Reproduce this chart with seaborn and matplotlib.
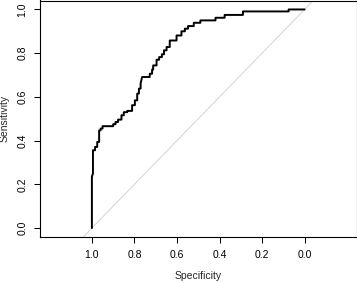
import matplotlib
matplotlib.use("Agg")
import matplotlib.pyplot as plt
import seaborn as sns
import pandas as pd

# ROC curve vertices (specificity, sensitivity)
specificity = [1.000, 1.000, 0.995, 0.995, 0.985, 0.985, 0.975, 0.975, 0.966, 0.966,
               0.959, 0.959, 0.950, 0.950, 0.900, 0.900, 0.889, 0.889, 0.877, 0.877,
               0.861, 0.861, 0.850, 0.850, 0.834, 0.834, 0.811, 0.811, 0.798, 0.798,
               0.787, 0.787, 0.779, 0.779, 0.771, 0.771, 0.764, 0.728, 0.728, 0.717,
               0.717, 0.712, 0.712, 0.696, 0.696, 0.684, 0.684, 0.671, 0.671, 0.661,
               0.661, 0.649, 0.649, 0.634, 0.634, 0.602, 0.602, 0.579, 0.579, 0.563,
               0.563, 0.548, 0.548, 0.521, 0.521, 0.490, 0.490, 0.419, 0.419, 0.376,
               0.376, 0.290, 0.290, 0.075, 0.075, 0.000]
sensitivity = [0.000, 0.235, 0.250, 0.356, 0.356, 0.371, 0.371, 0.394, 0.394, 0.447,
               0.447, 0.455, 0.455, 0.466, 0.466, 0.475, 0.475, 0.485, 0.485, 0.496,
               0.496, 0.516, 0.516, 0.530, 0.530, 0.536, 0.536, 0.562, 0.562, 0.584,
               0.584, 0.615, 0.615, 0.638, 0.638, 0.661, 0.691, 0.691, 0.706, 0.706,
               0.725, 0.725, 0.744, 0.744, 0.770, 0.770, 0.782, 0.782, 0.795, 0.795,
               0.813, 0.813, 0.828, 0.828, 0.858, 0.858, 0.881, 0.881, 0.900, 0.900,
               0.912, 0.912, 0.924, 0.924, 0.939, 0.939, 0.950, 0.950, 0.962, 0.962,
               0.975, 0.975, 0.991, 0.991, 1.000, 1.000]

x_ticks = [1.0, 0.8, 0.6, 0.4, 0.2, 0.0]
y_ticks = [0.0, 0.2, 0.4, 0.6, 0.8, 1.0]

sns.set_style("white")
plt.rcParams['font.family'] = ['Liberation Sans', 'DejaVu Sans']

df = pd.DataFrame({"Specificity": specificity, "Sensitivity": sensitivity})

fig = plt.figure(figsize=(3.57, 2.83), dpi=100)
ax = fig.add_axes([40/357, 46/283, 316.5/357, 236.5/283])

ax.axline((1, 0), (0, 1), color="#d3d3d3", lw=0.7, zorder=1)
sns.lineplot(data=df, x="Specificity", y="Sensitivity", sort=False, estimator=None,
             color="black", lw=1.4, ax=ax, zorder=2)

ax.set_xlim(1.244, -0.244)
ax.set_ylim(-0.041, 1.041)
ax.set_xticks(x_ticks)
ax.set_xticklabels([f"{t:.1f}" for t in x_ticks])
ax.set_yticks(y_ticks)
ax.set_yticklabels([f"{t:.1f}" for t in y_ticks], rotation=90, va="center")
ax.tick_params(axis="both", direction="out", length=4, width=0.75, labelsize=7.5,
               color="black", labelcolor="black", pad=5, bottom=True, left=True)
for s in ax.spines.values():
    s.set_visible(True)
    s.set_color("black")
    s.set_linewidth(0.8)
ax.set_xlabel("Specificity", fontsize=7.5, labelpad=8)
ax.set_ylabel("Sensitivity", fontsize=7.5, labelpad=6)

fig.savefig("out.png", dpi=100)
